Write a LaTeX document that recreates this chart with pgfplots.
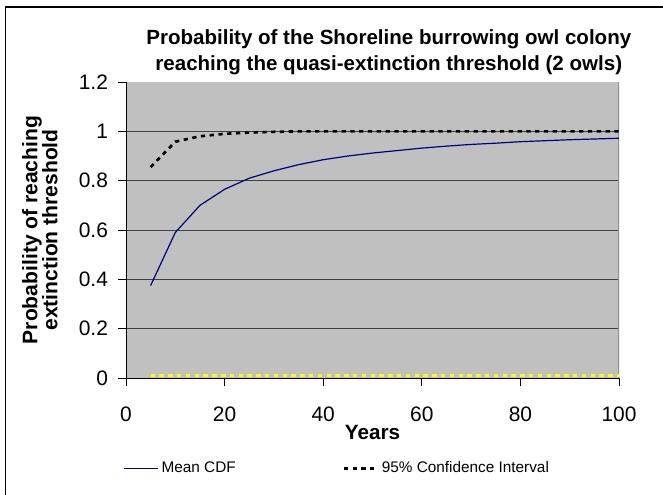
\documentclass[border=0pt]{standalone}
\usepackage{pgfplots}
\pgfplotsset{compat=1.18}
\usepackage{fontspec}
\setmainfont{Liberation Sans}
\definecolor{plotbg}{RGB}{192,192,192}
\definecolor{cdfblue}{RGB}{0,0,128}
\definecolor{ciyellow}{RGB}{255,255,0}
\begin{document}
\begin{tikzpicture}
\useasboundingbox (-94.5pt,-87pt) rectangle (402.75pt,283.5pt);
\draw[line width=1pt] (-90.4pt,-90pt) -- (-90.4pt,278.25pt) -- (405pt,278.25pt);
\begin{axis}[
  scale only axis,
  width=369.75pt, height=222pt,
  xmin=0, xmax=100, ymin=0, ymax=1.2,
  xtick={0,20,...,100},
  ytick={0,0.2,0.4,0.6,0.8,1.0},
  extra y ticks={1.2},
  extra y tick style={grid=none},
  ymajorgrids,
  grid style={black!75, line width=0.6pt},
  axis background/.style={fill=plotbg},
  axis x line*=bottom, axis y line*=left,
  axis line style={black, line width=0.6pt},
  tick style={black, line width=0.6pt},
  tick align=outside,
  major tick length=6pt,
  /pgf/number format/assume math mode=true,
  ticklabel style={font=\fontsize{15.7}{18}\selectfont},
  yticklabel style={/pgf/number format/fixed, xshift=-4pt},
  xticklabel style={yshift=-12pt},
  xlabel={Years},
  xlabel style={font=\bfseries\fontsize{15.5}{17}\selectfont, yshift=4pt},
  ylabel={Probability of reaching\\extinction threshold},
  ylabel style={font=\bfseries\fontsize{15.8}{15}\selectfont, align=center, yshift=-3pt},
  title={Probability of the Shoreline burrowing owl colony\\reaching the quasi-extinction threshold (2 owls)},
  title style={font=\bfseries\fontsize{15.4}{19}\selectfont, align=center, at={(0.533,1)}, anchor=south, yshift=-4pt},
  legend columns=2,
  legend style={draw=none, fill=none, at={(rel axis cs:0,-0.305)}, anchor=west, xshift=-5pt,
    font=\fontsize{11.5}{13}\selectfont, /tikz/every even column/.append style={column sep=78pt}},
  legend image code/.code={\draw[#1] (0cm,0cm) -- (0.9cm,0cm);},
]
\draw[black!45, line width=0.8pt] (rel axis cs:1,0) -- (rel axis cs:1,1);
\addplot[ciyellow, line width=2.2pt, dash pattern=on 3.2pt off 3.4pt, forget plot] coordinates {
(5,0.01) (10,0.01) (15,0.01) (20,0.01) (25,0.01) (30,0.01) (35,0.01) (40,0.01)
(45,0.01) (50,0.01) (55,0.01) (60,0.01) (65,0.01) (70,0.01) (75,0.01) (80,0.01)
(85,0.01) (90,0.01) (95,0.01) (100,0.01)};
\addplot[cdfblue, line width=0.9pt] coordinates {
(5,0.375) (10,0.59) (15,0.70) (20,0.765) (25,0.81) (30,0.84) (35,0.865) (40,0.885)
(45,0.90) (50,0.912) (55,0.922) (60,0.932) (65,0.94) (70,0.947) (75,0.952) (80,0.958)
(85,0.962) (90,0.966) (95,0.969) (100,0.972)};
\addlegendentry{Mean CDF}
\addplot[black, line width=2pt, dash pattern=on 3.2pt off 3.4pt] coordinates {
(5,0.855) (10,0.958) (15,0.98) (20,0.99) (25,0.995) (30,0.998) (35,1.0) (40,1.0)
(45,1.0) (50,1.0) (55,1.0) (60,1.0) (65,1.0) (70,1.0) (75,1.0) (80,1.0)
(85,1.0) (90,1.0) (95,1.0) (100,1.0)};
\addlegendentry{95\% Confidence Interval}
\end{axis}
\end{tikzpicture}
\end{document}
